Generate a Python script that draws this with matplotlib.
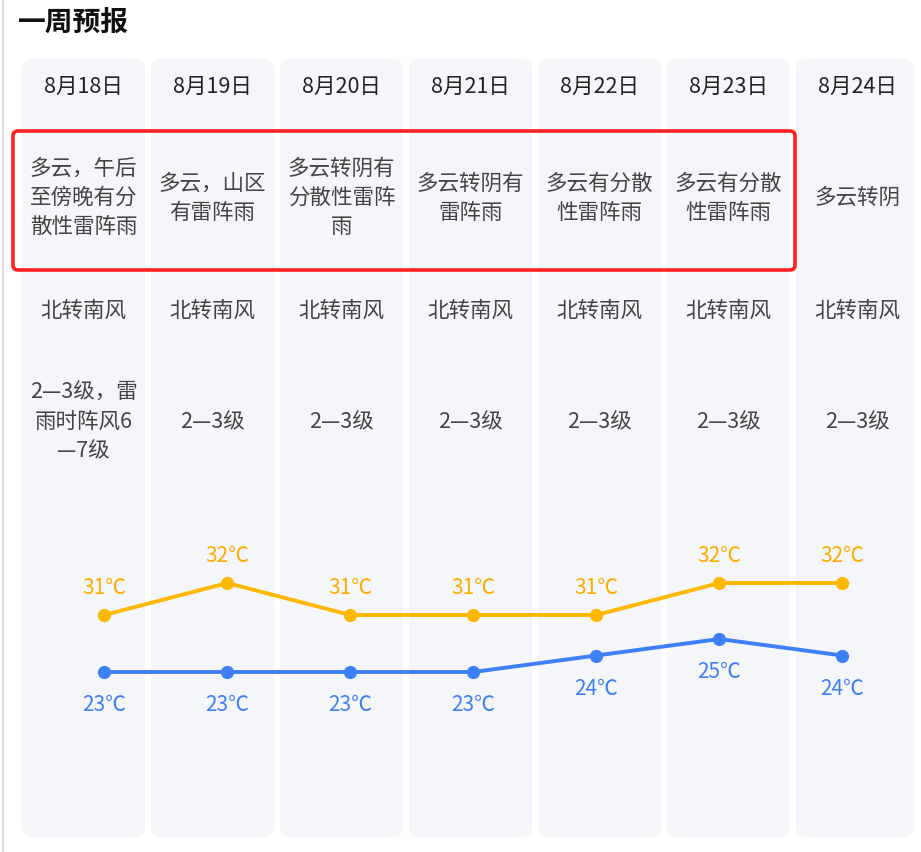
import matplotlib
matplotlib.use("Agg")
import matplotlib.pyplot as plt
from matplotlib.patches import FancyBboxPatch
import numpy as np

plt.rcParams['font.family'] = ['Noto Sans CJK SC', 'DejaVu Sans']

# data
dates = ["8月18日", "8月19日", "8月20日", "8月21日", "8月22日", "8月23日", "8月24日"]
weather = ["多云，午后\n至傍晚有分\n散性雷阵雨", "多云，山区\n有雷阵雨", "多云转阴有\n分散性雷阵\n雨",
           "多云转阴有\n雷阵雨", "多云有分散\n性雷阵雨", "多云有分散\n性雷阵雨", "多云转阴"]
wind_dir = ["北转南风"] * 7
wind_lvl = ["2—3级，雷\n雨时阵风6\n—7级", "2—3级", "2—3级", "2—3级", "2—3级", "2—3级", "2—3级"]
high = [31, 32, 31, 31, 31, 32, 32]
low = [23, 23, 23, 23, 24, 25, 24]

W, H = 921, 852
fig = plt.figure(figsize=(W / 100, H / 100), dpi=100)
fig.patch.set_facecolor("white")

# background layer in pixel coords
ax = fig.add_axes([0, 0, 1, 1])
ax.set_xlim(0, W)
ax.set_ylim(H, 0)
ax.axis("off")

ax.plot([3, 3], [0, H], color="#d9d9d9", lw=1.2)
ax.text(18, 23, "一周预报", fontsize=20, fontweight="bold", color="#111111", va="center", ha="left")

x0, pitch, cw = 22, 129, 123
for i in range(len(dates)):
    left = x0 + i * pitch
    width = cw if i < 6 else W - 7 - left
    card = FancyBboxPatch((left + 10, 59 + 10), width - 20, 778 - 20,
                          boxstyle="round,pad=10", fc="#f5f6fa", ec="none", zorder=1)
    ax.add_patch(card)
    cx = left + cw / 2
    ax.text(cx, 87, dates[i], fontsize=15.5, color="#222222", ha="center", va="center", zorder=3)
    ax.text(cx, 198, weather[i], fontsize=15.5, color="#444444", ha="center", va="center",
            linespacing=1.42, zorder=3)
    ax.text(cx, 311, wind_dir[i], fontsize=15.5, color="#444444", ha="center", va="center", zorder=3)
    ax.text(cx, 422, wind_lvl[i], fontsize=15.5, color="#444444", ha="center", va="center",
            linespacing=1.42, zorder=3)

box = FancyBboxPatch((13 + 5, 131 + 5), 782 - 10, 139 - 10, boxstyle="round,pad=5",
                     fc="none", ec="#ff2020", lw=2.6, zorder=4)
ax.add_patch(box)

# temperature lines, each with its own scale
days = np.arange(len(dates))
px0, ppitch = 104.3, 123
xl = (-px0 / ppitch, (W - px0) / ppitch)

ax_hi = fig.add_axes([0, 0, 1, 1])
ax_hi.set_xlim(*xl)
ax_hi.set_ylim(31 - (H - 615) / 32, 31 + 615 / 32)
ax_hi.axis("off")
ax_hi.plot(days, high, color="#ffb800", lw=2.8, marker="o", ms=8.5, solid_capstyle="round")
for d, t in zip(days, high):
    ax_hi.annotate(f"{t}℃", (d, t), xytext=(0, 19.5), textcoords="offset points",
                   ha="center", va="center", fontsize=15, color="#ffab00")

ax_lo = fig.add_axes([0, 0, 1, 1])
ax_lo.set_xlim(*xl)
ax_lo.set_ylim(23 - (H - 672) / 16.5, 23 + 672 / 16.5)
ax_lo.axis("off")
ax_lo.plot(days, low, color="#3f7ff5", lw=2.8, marker="o", ms=8.5, solid_capstyle="round")
for d, t in zip(days, low):
    ax_lo.annotate(f"{t}℃", (d, t), xytext=(0, -24), textcoords="offset points",
                   ha="center", va="center", fontsize=15, color="#3f7ff5")

fig.savefig("out.png", dpi=100)
